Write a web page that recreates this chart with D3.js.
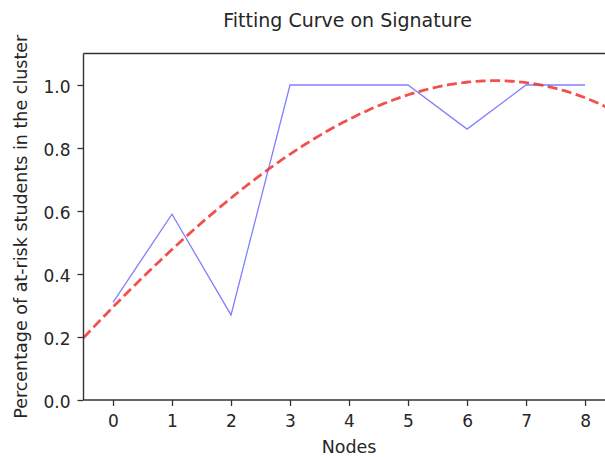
<!DOCTYPE html>
<html><head><meta charset="utf-8">
<script src="https://cdn.jsdelivr.net/npm/d3@7"></script>
<style>html,body{margin:0;padding:0;background:#fff;}svg{display:block;}</style>
</head><body>
<script>
const nodes = [0, 1, 2, 3, 4, 5, 6, 7, 8];
const atRisk = [0.31, 0.59, 0.27, 1.0, 1.0, 1.0, 0.86, 1.0, 1.0];
const xTicks = [0, 1, 2, 3, 4, 5, 6, 7, 8];
const yTicks = [0.0, 0.2, 0.4, 0.6, 0.8, 1.0];
const fitDegree = 3;

// least-squares polynomial fit of the observed series (as in the source's fitted curve)
function polyfit(xs, ys, deg) {
  const n = deg + 1;
  const A = Array.from({length: n}, () => new Array(n + 1).fill(0));
  for (let r = 0; r < n; r++) {
    for (let c = 0; c < n; c++) A[r][c] = d3.sum(xs, v => Math.pow(v, r + c));
    A[r][n] = d3.sum(xs.map((v, i) => Math.pow(v, r) * ys[i]));
  }
  for (let i = 0; i < n; i++) {
    let p = i;
    for (let k = i + 1; k < n; k++) if (Math.abs(A[k][i]) > Math.abs(A[p][i])) p = k;
    [A[i], A[p]] = [A[p], A[i]];
    for (let k = i + 1; k < n; k++) {
      const f = A[k][i] / A[i][i];
      for (let j = i; j <= n; j++) A[k][j] -= f * A[i][j];
    }
  }
  const coef = new Array(n).fill(0);
  for (let i = n - 1; i >= 0; i--) {
    let s = A[i][n];
    for (let j = i + 1; j < n; j++) s -= A[i][j] * coef[j];
    coef[i] = s / A[i][i];
  }
  return coef;
}
const coef = polyfit(nodes, atRisk, fitDegree);
const fitVal = v => coef.reduce((s, c, i) => s + c * Math.pow(v, i), 0);

const W = 605, H = 457;
const mLeft = 83.5, mRight = 611.6, mTop = 53.5, mBottom = 400;
const svg = d3.select("body").append("svg").attr("width", W).attr("height", H);

const x = d3.scaleLinear().domain([-0.5, 8.45]).range([mLeft, mRight]);
const y = d3.scaleLinear().domain([0, 1.1]).range([mBottom, mTop]);

svg.append("defs").append("clipPath").attr("id", "clip")
  .append("rect").attr("x", mLeft).attr("y", mTop).attr("width", mRight - mLeft).attr("height", mBottom - mTop);

const font = "DejaVu Sans, sans-serif";

const dom = x.domain();
const fitX = d3.range(0, 201).map(i => dom[0] + (dom[1] - dom[0]) * i / 200);

const plot = svg.append("g").attr("clip-path", "url(#clip)");
plot.append("path")
  .datum(nodes.map((n, i) => [n, atRisk[i]]))
  .attr("fill", "none").attr("stroke", "#8080ff").attr("stroke-width", 1.3)
  .attr("d", d3.line().x(d => x(d[0])).y(d => y(d[1])));
plot.append("path")
  .datum(fitX)
  .attr("fill", "none").attr("stroke", "#f03030").attr("stroke-opacity", 0.85)
  .attr("stroke-width", 2.8).attr("stroke-dasharray", "10,4.5")
  .attr("d", d3.line().x(d => x(d)).y(d => y(fitVal(d))));

const xAxis = svg.append("g").attr("transform", `translate(0,${mBottom})`)
  .call(d3.axisBottom(x).tickValues(xTicks).tickFormat(d3.format("d")).tickSizeInner(6).tickSizeOuter(0).tickPadding(9));
const yAxis = svg.append("g").attr("transform", `translate(${mLeft},0)`)
  .call(d3.axisLeft(y).tickValues(yTicks).tickFormat(d3.format(".1f")).tickSizeInner(6).tickSizeOuter(0).tickPadding(7));
[xAxis, yAxis].forEach(a => {
  a.selectAll("text").attr("font-family", font).attr("font-size", 17).attr("fill", "#262626");
  a.selectAll("line").attr("stroke", "#333").attr("stroke-width", 1.3);
  a.select(".domain").remove();
});
yAxis.selectAll("text").attr("dy", "0.45em");

const spine = (x1, y1, x2, y2) => svg.append("line").attr("x1", x1).attr("y1", y1).attr("x2", x2).attr("y2", y2)
  .attr("stroke", "#333").attr("stroke-width", 1.4);
spine(mLeft, mTop, mLeft, mBottom);
spine(mLeft, mBottom, mRight, mBottom);
spine(mLeft, mTop, mRight, mTop);
spine(mRight, mTop, mRight, mBottom);

svg.append("text").attr("x", (mLeft + mRight) / 2).attr("y", 27.3).attr("text-anchor", "middle")
  .attr("font-family", font).attr("font-size", 19).attr("fill", "#262626").text("Fitting Curve on Signature");
svg.append("text").attr("x", x(4)).attr("y", 453).attr("text-anchor", "middle")
  .attr("font-family", font).attr("font-size", 17.5).attr("fill", "#262626").text("Nodes");
svg.append("text").attr("transform", `translate(27,${(mTop + mBottom) / 2}) rotate(-90)`).attr("text-anchor", "middle")
  .attr("font-family", font).attr("font-size", 17.5).attr("fill", "#262626").text("Percentage of at-risk students in the cluster");
</script>
</body></html>
